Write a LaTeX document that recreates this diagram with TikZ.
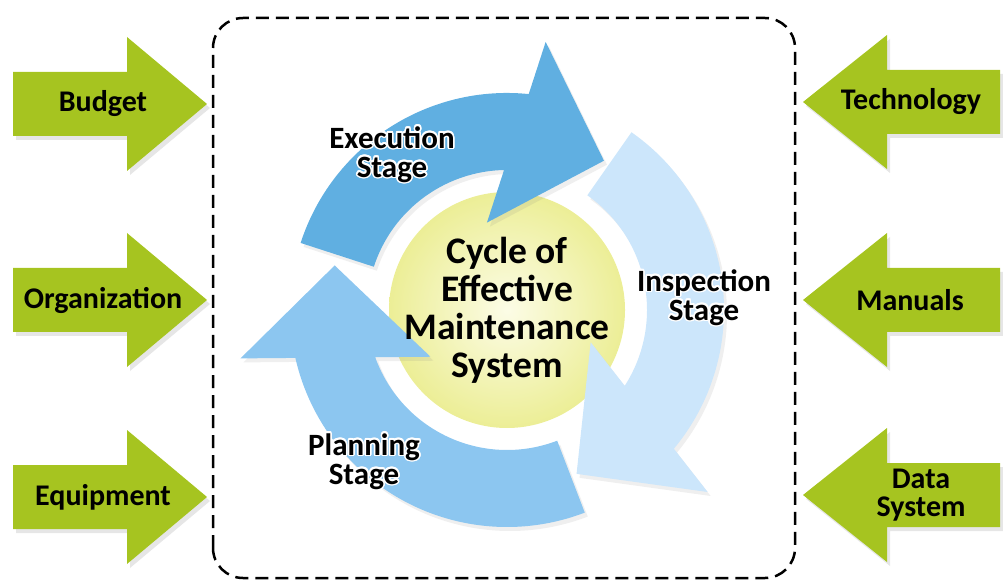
\documentclass[tikz,border=0pt]{standalone}
\usepackage{fontspec}
\setmainfont{Carlito}
\usepackage{contour}
\contourlength{1.5pt}
\usepackage{tikz}
\usetikzlibrary{calc}
\usetikzlibrary{shadows}
\usetikzlibrary{positioning}

\definecolor{leafgreen}{RGB}{166,196,32}
\definecolor{execblue}{RGB}{96,175,225}
\definecolor{planblue}{RGB}{140,198,240}
\definecolor{inspblue}{RGB}{204,230,251}
\definecolor{coreyellow}{RGB}{236,238,150}
\definecolor{corelight}{RGB}{252,252,230}

\newcommand\halo[1]{\contour{white}{#1}}

% one curved stage arrow: colour, tail angle, head base angle, name
\newcommand\stagearrow[4]{%
  \coordinate (#4-base) at ($(hub)+(#3:178)$);
  \coordinate (#4-tip) at ($(hub)+(#3-30:178)$);
  \coordinate (#4-out) at ($(#4-base)!95pt!90:(#4-tip)$);
  \coordinate (#4-in) at ($(#4-base)!95pt!-90:(#4-tip)$);
  \fill[#1, stageshadow] ($(hub)+(#2:217)$) arc[start angle=#2, end angle=#3-8, radius=217]
    -- ($(hub)+(#3-8:140)$) arc[start angle=#3-8, end angle=#2, radius=140] -- cycle
    (#4-out) -- (#4-tip) -- (#4-in) -- cycle;
}

\tikzset{
  inarrow/.style={fill=leafgreen, drop shadow={opacity=0.2, shadow xshift=3pt, shadow yshift=-4pt}},
  stageshadow/.style={drop shadow={opacity=0.13, shadow xshift=3pt, shadow yshift=-4pt}},
  sidelabel/.style={font=\bfseries\fontsize{30}{28}\selectfont, align=center, inner sep=0pt},
  stagelabel/.style={font=\bfseries\fontsize{31}{29}\selectfont, align=center, inner sep=0pt},
}

\begin{document}
\begin{tikzpicture}[x=1pt, y=1pt]
  \useasboundingbox (0,0) rectangle (1003,584);

  % frame
  \draw[line width=2.5pt, dash pattern=on 13pt off 7pt, rounded corners=30pt]
    (213,6) rectangle (795,566);

  % inputs from the left
  \foreach \ypos/\name/\txt in {480/budget/Budget, 284/organization/Organization, 87/equipment/Equipment}{
    \fill[inarrow] (13,\ypos+32) -- (127,\ypos+32) -- (127,\ypos+67) -- (207,\ypos)
      -- (127,\ypos-67) -- (127,\ypos-32) -- (13,\ypos-32) -- cycle;
    \node[sidelabel] (\name) at (103,\ypos) {\txt};
  }

  % inputs from the right
  \foreach \ypos/\xpos/\name/\txt in {482/911/technology/Technology, 284/910/manuals/Manuals, 89/921/datasystem/{Data\\System}}{
    \fill[inarrow] (1000,\ypos+32) -- (887,\ypos+32) -- (887,\ypos+67) -- (803,\ypos)
      -- (887,\ypos-67) -- (887,\ypos-32) -- (1000,\ypos-32) -- cycle;
    \node[sidelabel] (\name) at (\xpos,\ypos) {\txt};
  }

  % the cycle
  \coordinate (hub) at (507,274);
  \node[circle, minimum size=236pt, inner color=corelight, outer color=coreyellow] (core) at (hub) {};

  \stagearrow{planblue}{291}{195.5}{plan}
  \stagearrow{inspblue}{55}{-37}{insp}
  \stagearrow{execblue}{162}{87}{exec}

  \node[stagelabel] (execlabel) at (392,429) {\halo{Execution}\\\halo{Stage}};
  \node[stagelabel] (insplabel) at (704,286) {\halo{Inspection}\\\halo{Stage}};
  \node[stagelabel] (planlabel) at (364,122) {\halo{Planning}\\\halo{Stage}};

  \node[font=\bfseries\fontsize{37.5}{38}\selectfont, align=center] (corelabel) at (core)
    {Cycle of\\Effective\\Maintenance\\System};
\end{tikzpicture}
\end{document}
